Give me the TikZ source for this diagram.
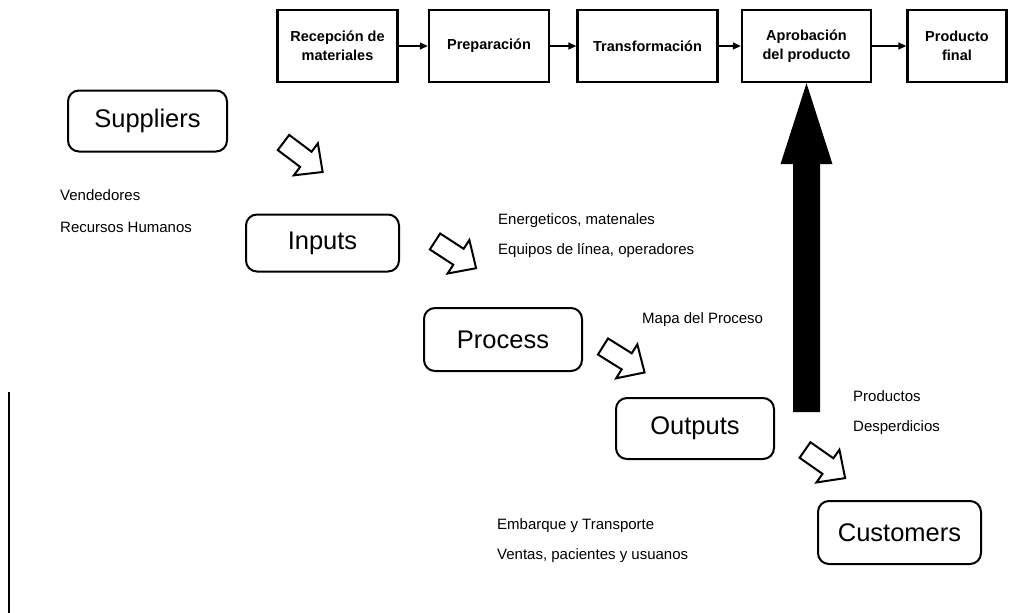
\documentclass[tikz,border=0pt]{standalone}
\usepackage{fontspec}
\setmainfont{Liberation Sans}
\usetikzlibrary{arrows.meta}
\begin{document}
\begin{tikzpicture}[x=1pt,y=-1pt,
  stage/.style={draw, line width=2.4pt, minimum height=72pt, inner sep=2pt, align=center,
    font=\fontsize{14.5}{19}\selectfont\bfseries},
  role/.style={draw, line width=2pt, rounded corners=11pt, font=\fontsize{25.5}{30}\selectfont},
  note/.style={anchor=base west, inner sep=0pt, font=\fontsize{15}{18}\selectfont},
  link/.style={line width=1.6pt, -{Triangle[length=8pt,width=7pt]}},
  hollow/.style={draw, line width=2pt, line join=miter, fill=white}]
\useasboundingbox (0,0) rectangle (1021,613);

% production stages along the top
\node[stage, minimum width=120pt] (b1) at (337.5,46) {Recepción de\\materiales};
\node[stage, minimum width=120pt] (b2) at (489,46) {Preparación};
\node[stage, minimum width=140pt] (b3) at (647.5,46) {Transformación};
\node[stage, minimum width=129pt] (b4) at (806.5,46) {Aprobación\\del producto};
\node[stage, minimum width=99pt] (b5) at (957,46) {Producto\\final};
\draw[link] (b1) -- (b2);
\draw[link] (b2) -- (b3);
\draw[link] (b3) -- (b4);
\draw[link] (b4) -- (b5);

% SIPOC chain
\node[role, minimum width=159pt, minimum height=61pt] (sup) at (147.5,121) {Suppliers};
\node[role, minimum width=153pt, minimum height=57pt] (inp) at (322.5,243) {Inputs};
\node[role, minimum width=158pt, minimum height=63pt] (proc) at (503,339.5) {Process};
\node[role, minimum width=158pt, minimum height=61pt] (out) at (695,428.5) {Outputs};
\node[role, minimum width=163pt, minimum height=63pt] (cust) at (899.5,532.5) {Customers};

% hollow block arrows between the SIPOC boxes
\begin{scope}[shift={(283.5,142.5)}, rotate=-37]
\draw[hollow] (0,-9.5) -- (28,-9.5) -- (28,-20) -- (49,0) -- (28,20) -- (28,9.5) -- (0,9.5) -- cycle;
\end{scope}
\begin{scope}[shift={(435,241.5)}, rotate=-33]
\draw[hollow] (0,-9.5) -- (28,-9.5) -- (28,-20) -- (49,0) -- (28,20) -- (28,9.5) -- (0,9.5) -- cycle;
\end{scope}
\begin{scope}[shift={(603,346.5)}, rotate=-32]
\draw[hollow] (0,-9.5) -- (28,-9.5) -- (28,-20) -- (49,0) -- (28,20) -- (28,9.5) -- (0,9.5) -- cycle;
\end{scope}
\begin{scope}[shift={(805,450)}, rotate=-35]
\draw[hollow] (0,-9.5) -- (28,-9.5) -- (28,-20) -- (49,0) -- (28,20) -- (28,9.5) -- (0,9.5) -- cycle;
\end{scope}

% big upward arrow, its tip on the approval stage
\fill (b4.south) -- ++(26,81) -- ++(-12.5,0) -- ++(0,248) -- ++(-27,0)
  -- ++(0,-248) -- ++(-12.5,0) -- cycle;

% notes
\node[note] (n1) at (60,200) {Vendedores};
\node[note] (n2) at (60,232) {Recursos Humanos};
\node[note] (n3) at (498,224) {Energeticos, matenales};
\node[note] (n4) at (498,254.5) {Equipos de línea, operadores};
\node[note] (n5) at (642,323) {Mapa del Proceso};
\node[note] (n6) at (853,401) {Productos};
\node[note] (n7) at (853,431) {Desperdicios};
\node[note] (n8) at (497,529) {Embarque y Transporte};
\node[note] (n9) at (497,559) {Ventas, pacientes y usuanos};

% margin rule at the left
\coordinate (m1) at (8.5,392);
\coordinate (m2) at (8.5,613);
\draw[line width=2pt] (m1) -- (m2);
\end{tikzpicture}
\end{document}
